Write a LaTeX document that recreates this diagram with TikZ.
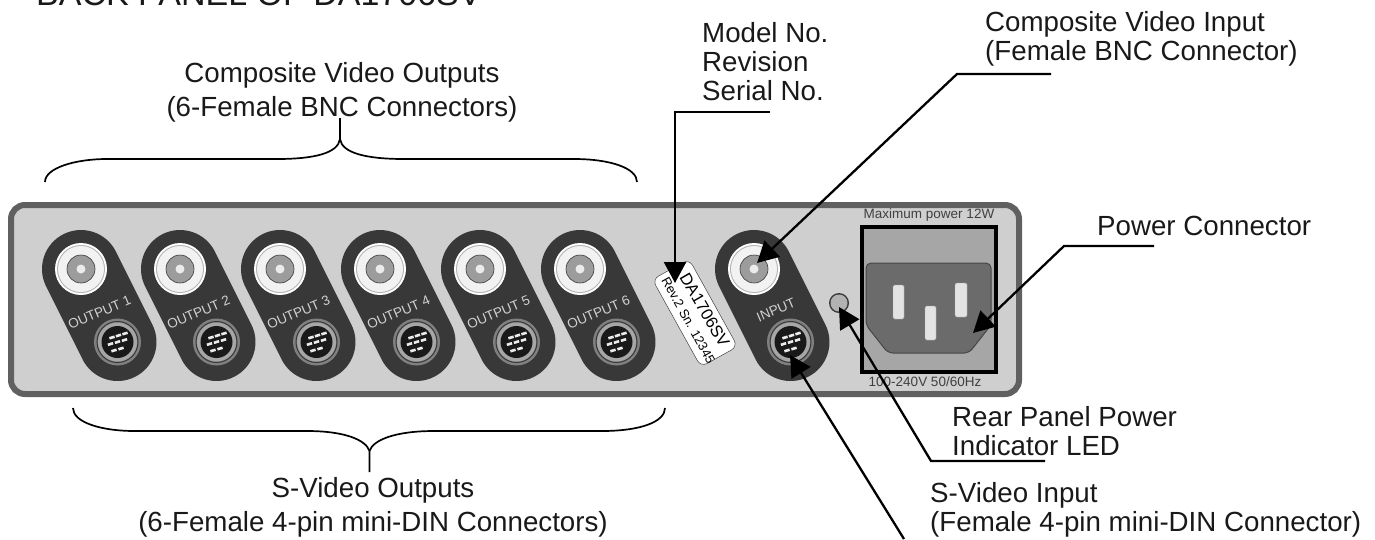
\documentclass[tikz,border=0pt]{standalone}
\usepackage{fontspec}
\setmainfont{Liberation Sans}
\usetikzlibrary{arrows.meta}
\definecolor{pilld}{gray}{0.22}
\tikzset{x=1pt,y=-1pt,
 lab/.style={font=\fontsize{27.7}{29}\selectfont,align=center,inner sep=0pt,text=black!90},
 pill/.style={line width=78pt,line cap=round,draw=pilld},
 arr/.style={draw=black,line width=2.3pt,-{Triangle[length=21pt,width=22pt]}},
 brace/.style={draw=black,line width=1.7pt},
 plate/.style={font=\fontsize{13.5}{15}\selectfont,text=white!82!black,inner sep=0pt,rotate=23}}
\newcommand{\unit}[5]{% name, x bnc, text, plate dx, plate y
 \coordinate (#1b) at (#2,269);
 \coordinate (#1d) at (#2+36.5,342);
 \draw[pill] (#1b) -- (#1d);
 \fill[white] (#1b) circle (26);
 \fill[gray!60] (#1b) circle (24);
 \fill[gray!10] (#1b) circle (23);
 \draw[fill=gray!78,draw=gray!45!black,line width=.6pt] (#1b) circle (14);
 \fill[white!92!black] (#1b) circle (4.5);
 \fill[gray] (#1d) circle (23.5);
 \draw[pilld,line width=1pt] (#1d) circle (20.5);
 \fill[gray!70] (#1d) circle (19.5);
 \fill[black!90] (#1d) circle (16);
 \begin{scope}[shift={(#1d)}]
  \foreach \px/\py in {-5.5/-4.5,1/-6.5,7.5/-8.5,-7/2,0/0,7/-2,-3.5/8.5,3.5/6.5}
   \draw[white!92!black,line width=2.6pt] (\px-2.6,\py+.8) -- (\px+2.6,\py-.8);
 \end{scope}
 \node[plate] (#1t) at (#2+#4,#5) {#3};
}
\begin{document}
\begin{tikzpicture}
\useasboundingbox (0,0) rectangle (1375,539);
\clip (0,0) rectangle (1375,539);
\node[lab,anchor=base west,font=\fontsize{34}{34}\selectfont] (title) at (36,5) {BACK PANEL OF DA1706SV};
\draw[draw=gray!75!black,line width=6pt,fill=gray!38,rounded corners=14pt] (11,205) rectangle (1019,394);
\unit{a}{81}{OUTPUT 1}{18.5}{312.5}
\unit{b}{180}{OUTPUT 2}{18.5}{312.5}
\unit{c}{280}{OUTPUT 3}{18.5}{312.5}
\unit{d}{380}{OUTPUT 4}{18.5}{312.5}
\unit{e}{480}{OUTPUT 5}{18.5}{312.5}
\unit{f}{580}{OUTPUT 6}{18.5}{312.5}
\unit{g}{754}{INPUT}{22}{310}
\node[draw=gray!50!black,line width=.5pt,fill=white,rounded corners=7pt,rotate=-61,minimum width=100pt,minimum height=42pt,inner sep=0pt] (tag) at (695,313) {};
\node[inner sep=0,rotate=-60,font=\fontsize{16.6}{17}\selectfont] (tagm) at (704.7,310) {DA1706SV};
\node[inner sep=0,rotate=-61,font=\fontsize{12.9}{13}\selectfont] (tags) at (688.3,320.3) {Rev.2 Sn. 12345};
\fill[gray!45!black] (839,303) circle (10);
\fill[gray!60] (839,303) circle (8.5);
\coordinate (led) at (839,307);
\node[inner sep=0,font=\fontsize{13.5}{14}\selectfont,text=black!75] (maxp) at (929,215) {Maximum power 12W};
\node[inner sep=0,font=\fontsize{13.5}{14}\selectfont,text=black!75] (volts) at (925,382) {100-240V 50/60Hz};
\draw[black,line width=4pt,fill=gray!70] (862,227) rectangle (996,372);
\draw[gray!55!black,line width=1pt,fill=black!58,rounded corners=5pt] (866,325) -- (866,263) -- (991,263) -- (991,325) -- (969,353) -- (888,353) -- cycle;
\foreach \a/\b/\c/\d in {893/285/904/319,925/306/936/340,955/283/967/317}
 \draw[fill=gray!22,draw=gray!70,rounded corners=1.5pt] (\a,\b) rectangle (\c,\d);
% braces
\draw[brace] (45,182) .. controls (45,168) and (75,159) .. (107,159) -- (277,159) .. controls (315,159) and (338,153) .. (340,139) -- (340,118);
\draw[brace] (340,139) .. controls (342,153) and (366,159) .. (404,159) -- (574,159) .. controls (610,159) and (637,168) .. (637,182);
\draw[brace] (73,408) .. controls (73,422) and (100,431) .. (135,431) -- (307,431) .. controls (345,431) and (366,440) .. (369.5,451) -- (369.5,472);
\draw[brace] (369.5,451) .. controls (373,440) and (395,431) .. (434,431) -- (602,431) .. controls (640,431) and (665,422) .. (665,408);
% labels
\node[lab,font=\fontsize{27.7}{34}\selectfont] (cvo) at (342,92) {Composite Video Outputs\\(6-Female BNC Connectors)};
\node[lab,font=\fontsize{27.7}{34}\selectfont] (svo) at (373,507.5) {S-Video Outputs\\(6-Female 4-pin mini-DIN Connectors)};
\node[lab,anchor=west,align=left] (mod) at (702,62) {Model No.\\Revision\\Serial No.};
\node[lab,anchor=west,align=left] (cvi) at (985,38.5) {Composite Video Input\\(Female BNC Connector)};
\node[lab,anchor=west] (pow) at (1097,226) {Power Connector};
\node[lab,anchor=west,align=left] (led2) at (952,431.5) {Rear Panel Power\\Indicator LED};
\node[lab,anchor=west,align=left] (svi) at (930,510) {S-Video Input\\(Female 4-pin mini-DIN Connector)};
% arrows
\coordinate (m1) at (770,112); \coordinate (m2) at (675,112); \coordinate (mt) at (675,283);
\draw[arr] (m1) -- (m2) -- (mt);
\coordinate (c1) at (1051,74); \coordinate (c2) at (957,74); \coordinate (ct) at (757,263);
\draw[arr] (c1) -- (c2) -- (ct);
\coordinate (p1) at (1154,246); \coordinate (p2) at (1064,246); \coordinate (pt) at (973,333);
\draw[arr] (p1) -- (p2) -- (pt);
\coordinate (l1) at (1045,461); \coordinate (l2) at (931,461);
\draw[arr] (l1) -- (l2) -- (led);
\coordinate (s1) at (904,539); \coordinate (st) at (790,355);
\draw[arr] (s1) -- (st);
\end{tikzpicture}
\end{document}
